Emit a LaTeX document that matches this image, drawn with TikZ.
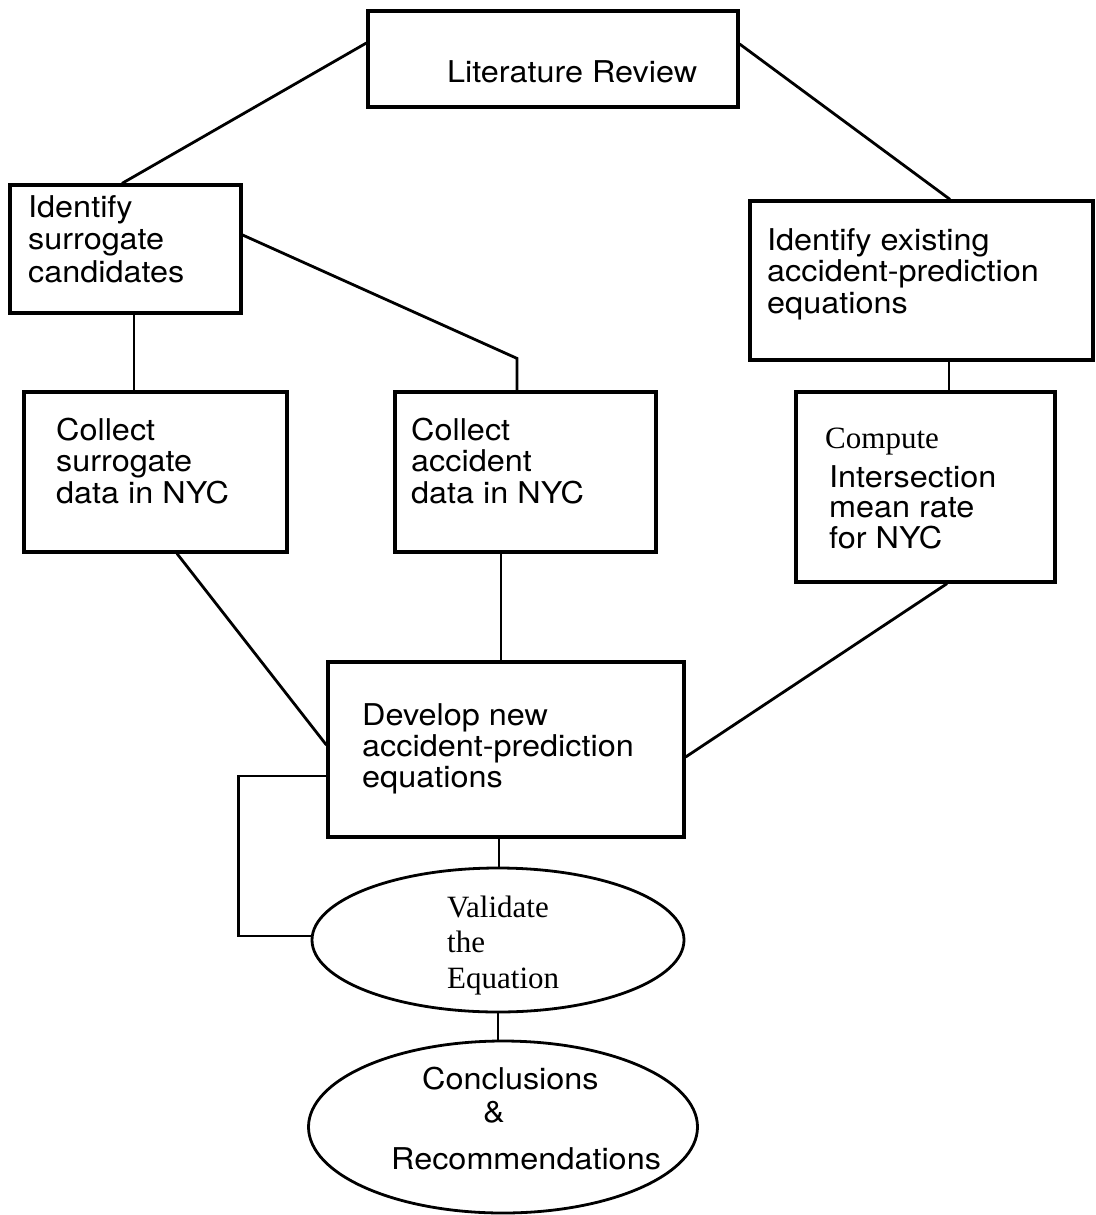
\documentclass[tikz,border=0pt]{standalone}
\usepackage{fontspec}
\setmainfont{TeX Gyre Heros}[FakeStretch=1.08]
\newfontfamily\timesfont{Liberation Serif}
\usetikzlibrary{shapes.geometric}
\begin{document}
\begin{tikzpicture}[x=10pt,y=10pt]
\tikzstyle{every node}+=[inner sep=0pt]
\tikzstyle{box}=[draw, line width=3.2pt, rectangle]
\tikzstyle{oval}=[draw, line width=2.8pt, ellipse]
\tikzstyle{txt}=[anchor=base west, align=left, font=\fontsize{30}{31.5}\selectfont]
\tikzstyle{serif}=[anchor=base west, align=left, font=\timesfont\fontsize{31}{35.5}\selectfont]
\tikzstyle{link}=[line width=2.8pt]
\useasboundingbox (0,0) rectangle (109.5,-121.5);
% boxes
\node [box, minimum width=370pt, minimum height=96pt] (lit) at (55.3,-5.9) {};
\node [box, minimum width=231pt, minimum height=128pt] (idsur) at (12.55,-24.9) {};
\node [box, minimum width=343pt, minimum height=159pt] (idex) at (92.15,-28.05) {};
\node [box, minimum width=263pt, minimum height=160pt] (colsur) at (15.55,-47.2) {};
\node [box, minimum width=261pt, minimum height=160pt] (colacc) at (52.55,-47.2) {};
\node [box, minimum width=259pt, minimum height=190pt] (comp) at (92.55,-48.7) {};
\node [box, minimum width=356pt, minimum height=175pt] (dev) at (50.6,-74.95) {};
\node [oval, minimum width=372pt, minimum height=144pt] (valid) at (49.8,-94) {};
\node [oval, minimum width=389pt, minimum height=172pt] (concl) at (50.3,-112.7) {};
% texts (base = last line)
\node [txt] (litT) at (44.7,-8.2) {Literature Review};
\node [txt, font=\fontsize{30}{32.5}\selectfont] (idsurT) at (2.8,-28.2) {Identify\\surrogate\\candidates};
\node [txt] (idexT) at (76.7,-31.3) {Identify existing\\accident-prediction\\equations};
\node [txt] (colsurT) at (5.6,-50.3) {Collect\\surrogate\\data in NYC};
\node [txt] (colaccT) at (41.1,-50.3) {Collect\\accident\\data in NYC};
\node [serif] (compT) at (82.5,-44.8) {Compute};
\node [txt, font=\fontsize{30}{30.5}\selectfont] (interT) at (82.9,-54.8) {Intersection\\mean rate\\for NYC};
\node [txt, font=\fontsize{30}{31}\selectfont] (devT) at (36.2,-78.7) {Develop new\\accident-prediction\\equations};
\node [serif] (validT) at (44.7,-98.8) {Validate\\the\\Equation};
\node [txt, font=\fontsize{30}{33}\selectfont] (conclT) at (39.1,-116.9) {\hspace*{31pt}Conclusions\\\hspace*{92pt}\&\\[14pt]Recommendations};
% connectors
\draw [link] ([yshift=16pt]lit.west) -- ([xshift=-3.5pt]idsur.north);
\draw [link] ([yshift=15pt]lit.east) -- ([xshift=28.5pt]idex.north);
\draw [link] ([yshift=14pt]idsur.east) -- ([xshift=-8.5pt,yshift=32pt]colacc.north) -- ([xshift=-8.5pt]colacc.north);
\draw [link] ([xshift=8.5pt]idsur.south) -- ([xshift=8.5pt]idsur.south |- colsur.north);
\draw [link] ([xshift=27.5pt]idex.south) -- ([xshift=27.5pt]idex.south |- comp.north);
\draw [link] ([xshift=21.5pt]colsur.south) -- ([yshift=4.5pt]dev.west);
\draw [link] ([xshift=-24.5pt]colacc.south) -- ([xshift=-24.5pt]colacc.south |- dev.north);
\draw [link] ([xshift=21.5pt]comp.south) -- ([yshift=-7.5pt]dev.east);
\draw [link] ([xshift=-7pt]dev.south) -- ([xshift=-7pt]dev.south |- valid.north);
\draw [link] ([yshift=-26.5pt]dev.west) -- ++(-88pt,0) |- ([yshift=4pt]valid.west);
\draw [link] (valid.south) -- (valid.south |- concl.north);
\end{tikzpicture}
\end{document}
